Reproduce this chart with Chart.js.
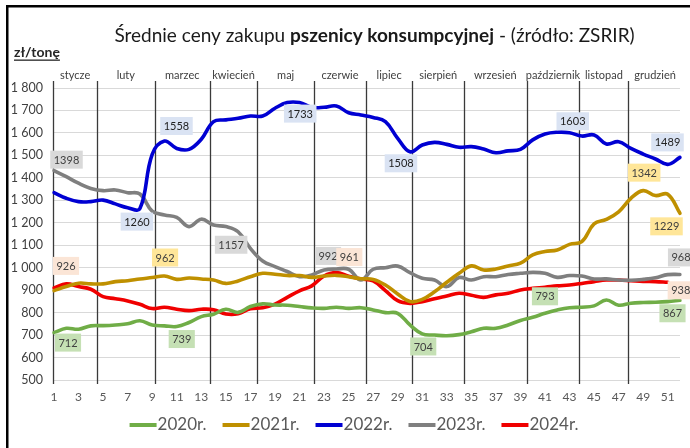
<!DOCTYPE html>
<html><head><meta charset="utf-8">
<script src="https://cdn.jsdelivr.net/npm/chart.js@4/dist/chart.umd.min.js"></script>
<style>html,body{margin:0;padding:0;background:#fff;}canvas{display:block;}</style>
</head><body>
<canvas id="c" width="690" height="448"></canvas>
<script>
// ---- data ----
const weeks = ['1','2','3','4','5','6','7','8','9','10','11','12','13','14','15','16','17','18','19','20','21','22','23','24','25','26','27','28','29','30','31','32','33','34','35','36','37','38','39','40','41','42','43','44','45','46','47','48','49','50','51','52'];
const yTicks = [500,600,700,800,900,1000,1100,1200,1300,1400,1500,1600,1700,1800];
const seriesNames = ['2020r.','2021r.','2022r.','2023r.','2024r.'];

const y2020 = [711,730,726,741,742,745,750,764,745,741,738,756,782,793,815,801,827,839,834,833,827,821,819,824,819,822,812,800,797,745,705,700,697,702,715,730,730,745,765,779,797,812,822,824,830,856,833,842,845,846,849,855];
const y2021 = [898,916,931,928,928,938,942,950,956,963,948,954,950,945,930,941,960,975,971,965,965,957,963,966,960,951,948,923,883,849,859,893,935,975,1008,990,994,1008,1020,1057,1072,1079,1104,1116,1195,1215,1249,1309,1343,1321,1327,1242];
const y2022 = [1334,1309,1294,1294,1301,1284,1267,1263,1505,1564,1531,1527,1572,1650,1658,1665,1675,1675,1710,1735,1735,1714,1714,1720,1690,1680,1669,1650,1576,1516,1546,1558,1549,1536,1539,1528,1512,1520,1527,1569,1595,1603,1601,1586,1591,1551,1561,1531,1506,1484,1460,1491];
const y2023 = [1432,1405,1376,1353,1343,1346,1334,1328,1252,1235,1224,1183,1216,1190,1183,1160,1086,1030,1005,983,960,968,990,994,993,945,993,1000,1007,978,953,945,916,956,945,960,960,970,975,979,975,957,965,963,950,950,945,944,948,955,969,970];
const y2024 = [910,928,916,904,871,862,852,837,818,824,815,809,815,813,794,795,817,822,838,868,897,919,963,978,962,950,941,898,853,841,849,862,874,886,877,868,879,886,901,908,913,919,923,930,938,945,945,942,939,938,935,null];

const months = ['stycze','luty','marzec','kwiecień','maj','czerwie','lipiec','sierpień','wrzesień','październik','listopad','grudzień'];
const monthStartWeek = [0.95,4.5,9.2,13.7,17.55,22.2,26.4,30.2,34.4,39.5,43.8,47.8];
const monthEndWeek = 52.15;

// value notes (series index, week, text)
const notes = [
  [0,1,'712'],[0,11,'739'],[0,31,'704'],[0,41,'793'],[0,52,'867'],
  [1,10,'962'],[1,49,'1342'],[1,52,'1229'],
  [2,8,'1260'],[2,10,'1558'],[2,20,'1733'],[2,30,'1508'],[2,42,'1603'],[2,52,'1489'],
  [3,1,'1398'],[3,16,'1157'],[3,23,'992'],[3,52,'968'],
  [4,1,'926'],[4,24,'961'],[4,51,'938']
];
// ---- layout / style (kept apart from data) ----
const noteOffsets = [
  [14,10],[5,12.5],[1,12.5],[0,-17],[-7.5,13],
  [0.6,-18.5],[1,-18],[-13.5,13],
  [-3,13],[12,-15],[13,11],[-9,11.5],[15.5,-11],[-12.5,-15],
  [12.5,-11],[-7,13],[4,-14],[1,-17],
  [12,-22],[13,-15.6],[13,8]
];
const colors = ['#70ad47','#bf9000','#0000d2','#7f7f7f','#f00000'];
const boxColors = ['#c5e0b4','#ffe699','#dae3f3','#d9d9d9','#fbe5d6'];
const FONT = 'Lato';

const fmt = v => { const s = String(v); return s.length > 3 ? s.slice(0, s.length-3) + ' ' + s.slice(-3) : s; };

const deco = {
  id: 'deco',
  beforeDraw(chart) {
    const ctx = chart.ctx;
    ctx.save(); ctx.fillStyle = '#fff'; ctx.fillRect(0,0,chart.width,chart.height); ctx.restore();
  },
  beforeDatasetsDraw(chart) {
    const {ctx, chartArea: a, scales: {x}} = chart;
    ctx.save();
    ctx.strokeStyle = '#3a3a3a'; ctx.lineWidth = 1.3;
    monthStartWeek.forEach(w => {
      const px = Math.round(x.getPixelForValue(w - 1)) + 0.5;
      ctx.beginPath(); ctx.moveTo(px, a.top - 7); ctx.lineTo(px, a.bottom + 4); ctx.stroke();
    });
    ctx.fillStyle = '#404040'; ctx.font = '11px ' + FONT; ctx.textAlign = 'center'; ctx.textBaseline = 'middle';
    months.forEach((m, i) => {
      const s = monthStartWeek[i], e = i < months.length - 1 ? monthStartWeek[i+1] : monthEndWeek;
      ctx.fillText(m, x.getPixelForValue((s + e) / 2 - 1), a.top - 13);
    });
    ctx.restore();
  },
  afterDatasetsDraw(chart) {
    const {ctx, scales: {x, y}} = chart;
    const data = chart.data.datasets;
    ctx.save();
    ctx.font = '11px ' + FONT; ctx.textAlign = 'center'; ctx.textBaseline = 'middle';
    notes.forEach((n, i) => {
      const [si, wk, txt] = n;
      const val = data[si].data[wk - 1];
      const cx = x.getPixelForValue(wk - 1) + noteOffsets[i][0];
      const cy = y.getPixelForValue(val) + noteOffsets[i][1];
      const w = ctx.measureText(txt).width + 7, h = 18;
      ctx.fillStyle = boxColors[si];
      ctx.fillRect(cx - w/2, cy - h/2, w, h);
      ctx.fillStyle = si === 2 ? '#222' : '#404040';
      ctx.fillText(txt, cx, cy + 0.5);
    });
    ctx.restore();
  },
  afterDraw(chart) {
    const ctx = chart.ctx;
    ctx.save();
    // title with bold middle part
    const parts = [['Średnie ceny zakupu ', ''], ['pszenicy konsumpcyjnej', 'bold '], [' - (źródło: ZSRIR)', '']];
    const size = 19;
    let total = 0;
    parts.forEach(p => { ctx.font = p[1] + size + 'px ' + FONT; p.w = ctx.measureText(p[0]).width; total += p.w; });
    let tx = 374.5 - total / 2;
    ctx.fillStyle = '#1a1a1a'; ctx.textBaseline = 'middle'; ctx.textAlign = 'left';
    parts.forEach(p => { ctx.font = p[1] + size + 'px ' + FONT; ctx.fillText(p[0], tx, 36); tx += p.w; });
    // unit
    ctx.font = 'bold 14px ' + FONT; ctx.textBaseline = 'alphabetic';
    ctx.fillStyle = '#262626';
    ctx.fillText('zł/tonę', 14, 57);
    const uw = ctx.measureText('zł/tonę').width;
    ctx.fillRect(14, 59.5, uw, 1.3);
    // legend
    ctx.font = '17px ' + FONT; ctx.textBaseline = 'middle';
    const sw = 27, gap = 1, itemGap = 16;
    const items = chart.data.datasets.map(d => ({t: d.label, c: d.borderColor, w: ctx.measureText(d.label).width}));
    const lw = items.reduce((s, it) => s + sw + gap + it.w, 0) + itemGap * (items.length - 1);
    let lx = 354 - lw / 2;
    items.forEach(it => {
      ctx.fillStyle = it.c; ctx.fillRect(lx, 423, sw, 4);
      ctx.fillStyle = '#595959'; ctx.fillText(it.t, lx + sw + gap, 425);
      lx += sw + gap + it.w + itemGap;
    });
    // frame
    ctx.fillStyle = '#000';
    ctx.fillRect(6, 5, 2.5, chart.height - 5);
    ctx.fillRect(6, 5, chart.width - 6, 2.5);
    ctx.restore();
  }
};

const series = [y2020, y2021, y2022, y2023, y2024];
new Chart(document.getElementById('c'), {
  type: 'line',
  data: {
    labels: weeks,
    datasets: series.map((d, i) => ({
      label: seriesNames[i], data: d, borderColor: colors[i], backgroundColor: colors[i],
      borderWidth: 3.6, pointRadius: 0, tension: 0.4, fill: false, borderCapStyle: 'round', borderJoinStyle: 'round'
    }))
  },
  options: {
    responsive: false, animation: false, devicePixelRatio: 1,
    layout: {padding: {left: 0, right: 8, top: 88, bottom: 0}},
    plugins: {legend: {display: false}, title: {display: false}, tooltip: {enabled: false}},
    scales: {
      x: {
        type: 'category', offset: false,
        grid: {display: false, drawTicks: false}, border: {display: false},
        ticks: {autoSkip: false, maxRotation: 0, padding: 10, color: '#595959', font: {family: FONT, size: 12},
          callback: (v, i) => (i % 2 === 0 ? weeks[i] : '')},
        afterFit(s) { s.height = 68; }
      },
      y: {
        min: yTicks[0], max: yTicks[yTicks.length - 1],
        afterBuildTicks(s) { s.ticks = yTicks.map(v => ({value: v})); },
        ticks: {padding: 11, color: '#404040', font: {family: FONT, size: 12.5}, callback: v => fmt(v)},
        grid: {color: '#d9d9d9', drawTicks: false, lineWidth: 1},
        border: {display: false},
        afterFit(s) { s.width = 54; }
      }
    }
  },
  plugins: [deco]
});
</script>
</body></html>
